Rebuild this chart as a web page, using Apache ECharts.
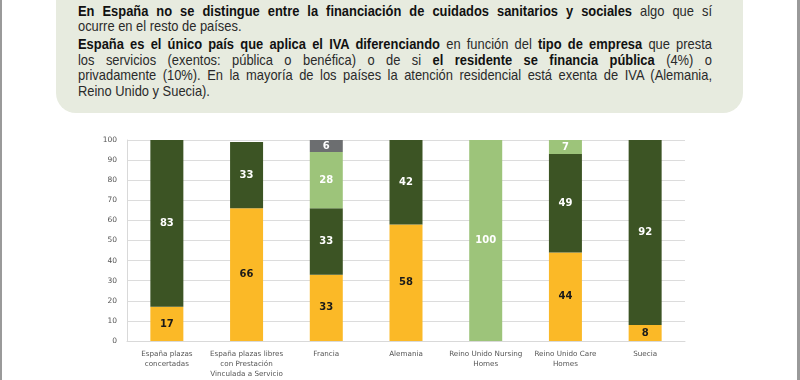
<!DOCTYPE html>
<html><head><meta charset="utf-8">
<script src="https://cdn.jsdelivr.net/npm/echarts@6/dist/echarts.min.js"></script>
<style>
html,body{margin:0;padding:0;background:#fff;}
#wrap{position:relative;width:800px;height:380px;overflow:hidden;background:#fff;}
#chart{position:absolute;left:0;top:0;width:800px;height:380px;}
#box{position:absolute;left:56px;top:-30px;width:687px;height:143px;background:#e7ebdf;border-radius:20px;}
#txt{position:absolute;left:78px;top:2.5px;transform-origin:0 0;font-family:"Liberation Sans",Arial,sans-serif;font-size:15px;color:#2a2a2a;}
#txt div{line-height:15.5px;height:15.5px;white-space:nowrap;text-align:justify;text-align-last:justify;}
#txt div.end{text-align-last:left;}
#txt div.gap{margin-top:2.5px;}
#txt b{color:#111;}
#bl{position:absolute;left:0;top:0;width:2px;height:380px;background:#9a9a9a;}
#br{position:absolute;right:0;top:0;width:3px;height:380px;background:#9a9a9a;}
</style></head>
<body><div id="wrap">
<div id="box"></div>
<div id="txt">
<div><span><b>En España no se distingue entre la financiación de cuidados sanitarios y sociales</b> algo que sí</span></div>
<div class="end"><span>ocurre en el resto de países.</span></div>
<div class="gap"><span><b>España es el único país que aplica el IVA diferenciando</b> en función del <b>tipo de empresa</b> que presta</span></div>
<div><span>los servicios (exentos: pública o benéfica) o de si <b>el residente se financia pública</b> (4%) o</span></div>
<div><span>privadamente (10%). En la mayoría de los países la atención residencial está exenta de IVA (Alemania,</span></div>
<div class="end"><span>Reino Unido y Suecia).</span></div>
</div>
<div id="chart"></div>
<div id="bl"></div><div id="br"></div>
</div>
<script>
(function(){
  const txt = document.getElementById('txt');
  let maxW = 0;
  txt.querySelectorAll('div').forEach(d => {
    if (!d.classList.contains('end')) maxW = Math.max(maxW, d.firstElementChild.getBoundingClientRect().width);
  });
  const target = 634;
  const s = Math.min(0.86, target / (maxW + 6));
  txt.style.width = (target / s) + 'px';
  txt.style.transform = 'scaleX(' + s + ')';
})();

const categories = ["España plazas\nconcertadas", "España plazas libres\ncon Prestación\nVinculada a Servicio", "Francia", "Alemania", "Reino Unido Nursing\nHomes", "Reino Unido Care\nHomes", "Suecia"];
const yellowValues = [17, 66, 33, 58, 0, 44, 8];
const darkGreenValues = [83, 33, 33, 42, 0, 49, 92];
const lightGreenValues = [0, 0, 28, 0, 100, 7, 0];
const grayValues = [0, 0, 6, 0, 0, 0, 0];

const chart = echarts.init(document.getElementById('chart'), null, {renderer: 'canvas'});
function mk(name, data, color, labelColor) {
  return {
    name: name, type: 'bar', stack: 'total', data: data, barWidth: 33,
    itemStyle: {color: color},
    label: {
      show: true, position: 'inside', color: labelColor, fontWeight: 'bold',
      fontSize: 10, fontFamily: 'DejaVu Sans',
      formatter: p => (p.value ? String(p.value) : '')
    }
  };
}
chart.setOption({
  animation: false,
  grid: {left: 127, right: 115, top: 140, bottom: 39, containLabel: false},
  xAxis: {
    type: 'category', data: categories,
    axisLine: {lineStyle: {color: '#d9d9d9'}},
    axisTick: {show: false},
    axisLabel: {interval: 0, color: '#555', fontSize: 7.2, lineHeight: 10, fontFamily: 'DejaVu Sans', margin: 8}
  },
  yAxis: {
    type: 'value', min: 0, max: 100, interval: 10,
    axisLine: {show: true, lineStyle: {color: '#d9d9d9'}},
    axisTick: {show: false},
    splitLine: {lineStyle: {color: '#dcdcdc'}},
    axisLabel: {color: '#555', fontSize: 7.5, fontFamily: 'DejaVu Sans', margin: 10}
  },
  series: [
    mk('Amarillo', yellowValues, '#fbb927', '#1a1a1a'),
    mk('Verde oscuro', darkGreenValues, '#3c5424', '#ffffff'),
    mk('Verde claro', lightGreenValues, '#9dc47a', '#ffffff'),
    mk('Gris', grayValues, '#6c6e70', '#ffffff')
  ]
});
</script>
</body></html>
